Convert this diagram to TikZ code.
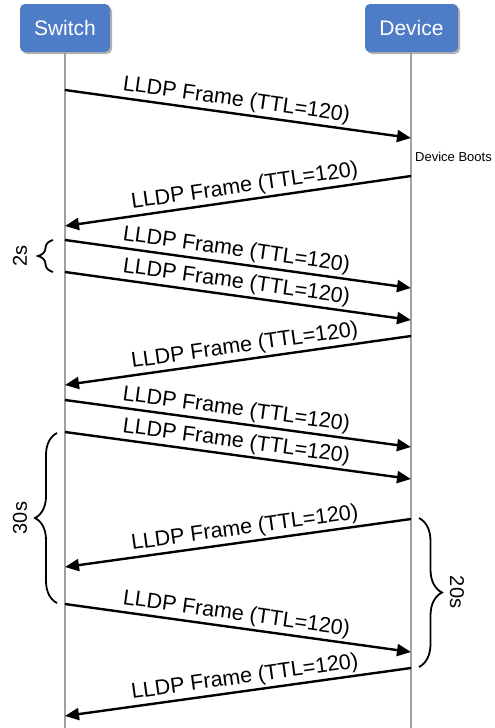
\documentclass[tikz,border=0pt]{standalone}
\usepackage{fontspec}
\setmainfont{Liberation Sans}
\usetikzlibrary{arrows.meta,decorations.pathreplacing,shadows}
\definecolor{boxblue}{HTML}{4F7CC6}
\definecolor{lifegrey}{HTML}{A0A0A0}
\begin{document}
\begin{tikzpicture}[x=1pt,y=-1pt,
  actor/.style={fill=boxblue, rounded corners=5pt, text=white,
    font=\fontsize{21}{25}\selectfont, minimum height=48pt, inner sep=0pt,
    drop shadow={shadow xshift=2pt, shadow yshift=-2pt, opacity=0.3, fill=black}},
  life/.style={draw=lifegrey, line width=1.1pt},
  msg/.style={line width=2.4pt, -{Triangle[length=14pt,width=12pt]}},
  lbl/.style={sloped, above, pos=0.49, inner sep=2pt, font=\fontsize{21.5}{25}\selectfont},
  lblb/.style={lbl, pos=0.475},
  bracestyle/.style={line width=1.8pt, decorate},
  blbl/.style={font=\fontsize{20}{24}\selectfont, inner sep=0pt},
  note/.style={font=\fontsize{13}{15}\selectfont, inner sep=0pt, anchor=west}
]
\useasboundingbox (0,0) rectangle (495,728);

% actors
\node[actor, minimum width=90pt] (sw) at (65,28) {Switch};
\node[actor, minimum width=93pt] (dev) at (411.5,28) {Device};

% lifeline ends
\coordinate (swend) at (65,728);
\coordinate (devend) at (411,728);
\draw[life] (sw.south) -- (swend);
\draw[life] (dev.south -| devend) -- (devend);

% message end points
\coordinate (s1) at (65,90);   \coordinate (d1) at (411,138);
\coordinate (d2) at (411,176); \coordinate (s2) at (65,226);
\coordinate (s3) at (65,240);  \coordinate (d3) at (411,288);
\coordinate (s4) at (65,272);  \coordinate (d4) at (411,320);
\coordinate (d5) at (411,336); \coordinate (s5) at (65,385);
\coordinate (s6) at (65,400);  \coordinate (d6) at (411,447);
\coordinate (s7) at (65,432);  \coordinate (d7) at (411,479);
\coordinate (d8) at (411,519); \coordinate (s8) at (65,567);
\coordinate (s9) at (65,604);  \coordinate (d9) at (411,652);
\coordinate (d10) at (411,668); \coordinate (s10) at (65,716);

\draw[msg] (s1) -- node[lbl] (m1) {LLDP Frame (TTL=120)} (d1);
\draw[msg] (d2) -- node[lblb] (m2) {LLDP Frame (TTL=120)} (s2);
\draw[msg] (s3) -- node[lbl] (m3) {LLDP Frame (TTL=120)} (d3);
\draw[msg] (s4) -- node[lbl] (m4) {LLDP Frame (TTL=120)} (d4);
\draw[msg] (d5) -- node[lblb] (m5) {LLDP Frame (TTL=120)} (s5);
\draw[msg] (s6) -- node[lbl] (m6) {LLDP Frame (TTL=120)} (d6);
\draw[msg] (s7) -- node[lbl] (m7) {LLDP Frame (TTL=120)} (d7);
\draw[msg] (d8) -- node[lblb] (m8) {LLDP Frame (TTL=120)} (s8);
\draw[msg] (s9) -- node[lbl] (m9) {LLDP Frame (TTL=120)} (d9);
\draw[msg] (d10) -- node[lblb] (m10) {LLDP Frame (TTL=120)} (s10);

% note
\node[note] (boots) at (415,157) {Device Boots};

% braces
\coordinate (b2a) at (53,272); \coordinate (b2b) at (53,240);
\draw[bracestyle, decoration={brace, amplitude=15pt}] (b2a) -- (b2b);
\node[blbl, rotate=90] (t2s) at (20,256) {2s};

\coordinate (b30a) at (57,603); \coordinate (b30b) at (57,433);
\draw[bracestyle, decoration={brace, amplitude=22pt}] (b30a) -- (b30b);
\node[blbl, rotate=90] (t30s) at (20,518) {30s};

\coordinate (b20a) at (419,518); \coordinate (b20b) at (419,667);
\draw[bracestyle, decoration={brace, amplitude=23pt}] (b20a) -- (b20b);
\node[blbl, rotate=-90] (t20s) at (457,592) {20s};
\end{tikzpicture}
\end{document}
